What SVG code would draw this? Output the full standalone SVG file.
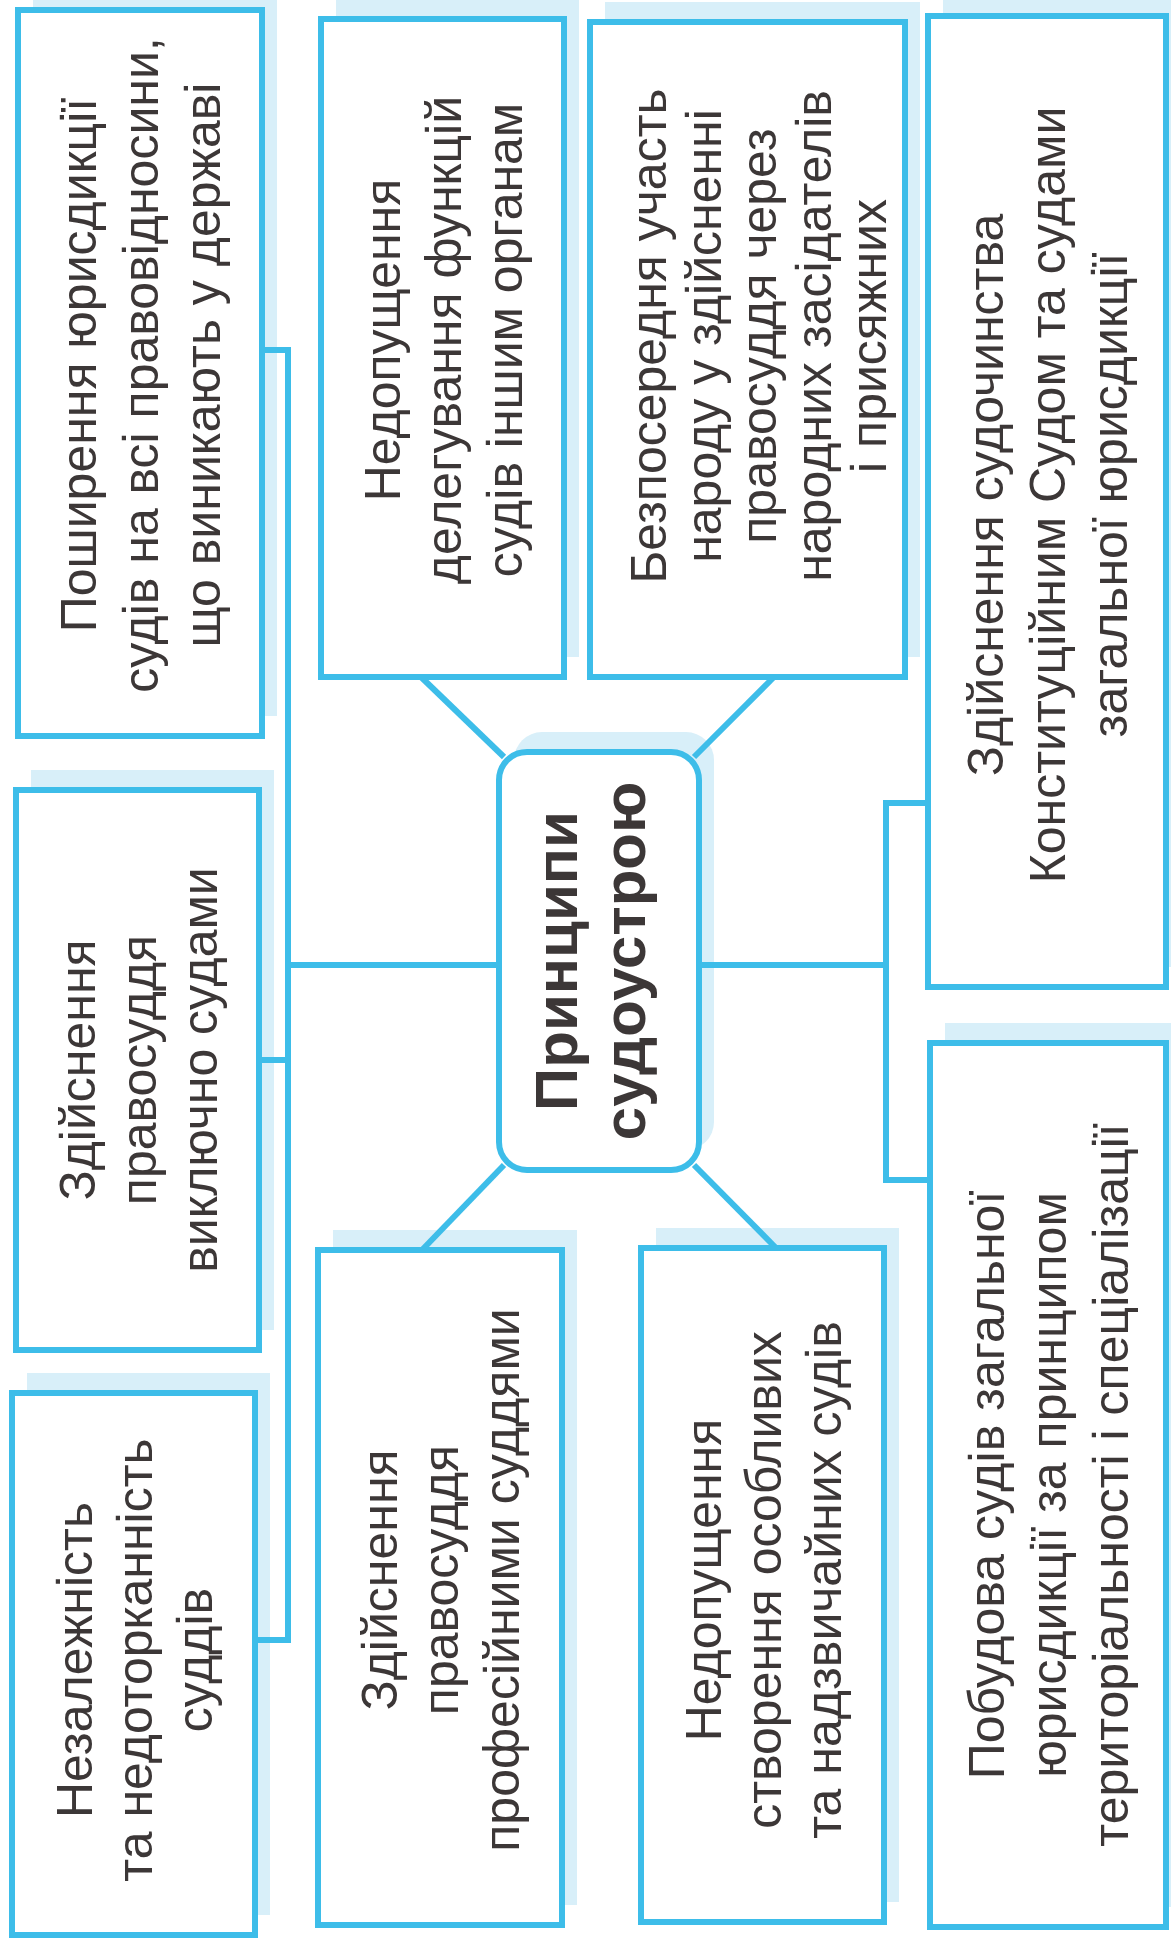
<svg xmlns="http://www.w3.org/2000/svg" width="1171" height="1945" viewBox="0 0 1171 1945">
<style>
.sh{fill:#d8eff9}
.bx{fill:#fff;stroke:#3dbde9;stroke-width:6}
.cn{fill:none;stroke:#3dbde9;stroke-width:6}
.t{font-family:"Liberation Sans",Arial,sans-serif;font-size:50px;fill:#3c3737;text-anchor:middle}
.tb{font-weight:bold;font-size:60px}
</style>
<rect width="1171" height="1945" fill="#fff"/>
<g id="shadows">
<rect class="sh" x="33" y="-10" width="244" height="726"/>
<rect class="sh" x="31" y="770" width="243" height="560"/>
<rect class="sh" x="27" y="1373" width="243" height="542"/>
<rect class="sh" x="336" y="-1" width="243" height="658"/>
<rect class="sh" x="333" y="1230" width="244" height="675"/>
<rect class="sh" x="605" y="2" width="315" height="655"/>
<rect class="sh" x="656" y="1228" width="243" height="674"/>
<rect class="sh" x="943" y="-4" width="238" height="971"/>
<rect class="sh" x="945" y="1023" width="236" height="884"/>
<rect class="sh" x="514" y="732" width="200" height="418" rx="28"/>
</g>
<g id="connectors">
<path class="cn" d="M262,350 H288 V1640 H255"/>
<path class="cn" d="M259,1060 H288"/>
<path class="cn" d="M288,965 H499"/>
<path class="cn" d="M928,803 H886 V1180 H930"/>
<path class="cn" d="M699,965 H886"/>
<path class="cn" d="M421,677 L504,757"/>
<path class="cn" d="M774,677 L694,757"/>
<path class="cn" d="M504,1165 L422,1250"/>
<path class="cn" d="M694,1165 L776,1248"/>
</g>
<g id="n1">
<rect class="bx" x="18" y="10" width="244" height="726"/>
<text class="t" transform="translate(140,365) rotate(-90)"><tspan x="0" y="-44">Поширення юрисдикції</tspan><tspan x="0" y="18">судів на всі правовідносини,</tspan><tspan x="0" y="80">що виникають у державі</tspan></text>
</g>
<g id="n2">
<rect class="bx" x="16" y="790" width="243" height="560"/>
<text class="t" transform="translate(137.5,1070) rotate(-90)"><tspan x="0" y="-43">Здійснення</tspan><tspan x="0" y="18">правосуддя</tspan><tspan x="0" y="79">виключно судами</tspan></text>
</g>
<g id="n3">
<rect class="bx" x="12" y="1393" width="243" height="542"/>
<text class="t" transform="translate(133.5,1660) rotate(-90)"><tspan x="0" y="-42">Незалежність</tspan><tspan x="0" y="18">та недоторканність</tspan><tspan x="0" y="78">суддів</tspan></text>
</g>
<g id="n4">
<rect class="bx" x="321" y="19" width="243" height="658"/>
<text class="t" transform="translate(442.5,340) rotate(-90)"><tspan x="0" y="-43">Недопущення</tspan><tspan x="0" y="18">делегування функцій</tspan><tspan x="0" y="79">судів іншим органам</tspan></text>
</g>
<g id="n5">
<rect class="bx" x="318" y="1250" width="244" height="675"/>
<text class="t" transform="translate(440,1580) rotate(-90)"><tspan x="0" y="-43">Здійснення</tspan><tspan x="0" y="18">правосуддя</tspan><tspan x="0" y="79">професійними суддями</tspan></text>
</g>
<g id="n6">
<rect class="bx" x="590" y="22" width="315" height="655"/>
<text class="t" transform="translate(758,336) rotate(-90)"><tspan x="0" y="-92">Безпосередня участь</tspan><tspan x="0" y="-37">народу у здійсненні</tspan><tspan x="0" y="18">правосуддя через</tspan><tspan x="0" y="73">народних засідателів</tspan><tspan x="0" y="128">і присяжних</tspan></text>
</g>
<g id="n7">
<rect class="bx" x="641" y="1248" width="243" height="674"/>
<text class="t" transform="translate(762.5,1580) rotate(-90)"><tspan x="0" y="-42">Недопущення</tspan><tspan x="0" y="18">створення особливих</tspan><tspan x="0" y="78">та надзвичайних судів</tspan></text>
</g>
<g id="n8">
<rect class="bx" x="928" y="16" width="238" height="971"/>
<text class="t" transform="translate(1047,495) rotate(-90)"><tspan x="0" y="-44">Здійснення судочинства</tspan><tspan x="0" y="18">Конституційним Судом та судами</tspan><tspan x="0" y="80">загальної юрисдикції</tspan></text>
</g>
<g id="n9">
<rect class="bx" x="930" y="1043" width="236" height="884"/>
<text class="t" transform="translate(1048,1485) rotate(-90)"><tspan x="0" y="-44">Побудова судів загальної</tspan><tspan x="0" y="18">юрисдикції за принципом</tspan><tspan x="0" y="80">територіальності і спеціалізації</tspan></text>
</g>
<g id="center">
<rect class="bx" x="499" y="752" width="200" height="418" rx="28"/>
<text class="t tb" transform="translate(599,961) rotate(-90)"><tspan x="0" y="-22">Принципи</tspan><tspan x="0" y="46">судоустрою</tspan></text>
</g>
</svg>
